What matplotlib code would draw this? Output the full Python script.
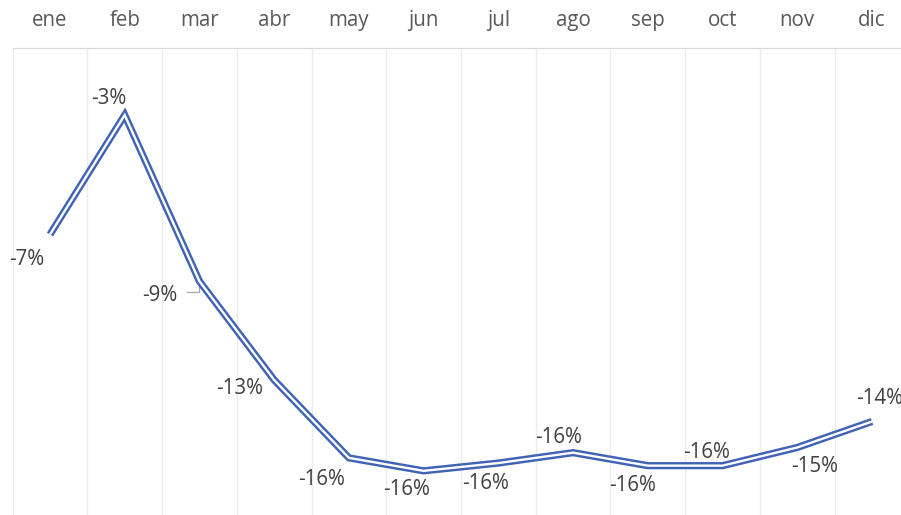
import matplotlib
matplotlib.use("Agg")
from matplotlib import pyplot as plt
import numpy as np

# monthly change, in percent
meses = ["ene", "feb", "mar", "abr", "may", "jun",
         "jul", "ago", "sep", "oct", "nov", "dic"]
variacion = [-7.2, -2.6, -9.0, -12.8, -15.8, -16.3,
             -16.0, -15.6, -16.1, -16.1, -15.4, -14.4]

# where each data label sits, pixels from its point (right, down)
label_offsets = [(-23, 23), (-16, -19), (-40, 12.5), (-35, 7),
                 (-27, 19.5), (-17, 17), (-12.5, 18), (-15, -17),
                 (-15, 17.5), (-16, -15), (17.5, 17), (8, -25)]

plt.rcParams["font.family"] = ["Open Sans", "DejaVu Sans"]

W, H, DPI = 901, 515, 100
fig = plt.figure(figsize=(W / DPI, H / DPI), dpi=DPI)
left, right, top = 12.6, 909.4, 47.5
ax = fig.add_axes([left / W, 0, (right - left) / W, (H - top) / H])

x = np.arange(len(meses))
blue = "#4163B3"

# double line: blue stroke with a white stroke on top
ax.plot(x, variacion, color=blue, lw=5.2, solid_joinstyle="miter",
        solid_capstyle="butt", zorder=3)
ax.plot(x, variacion, color="white", lw=1.7, solid_joinstyle="miter",
        solid_capstyle="butt", zorder=4)

ax.set_xlim(-0.5, len(meses) - 0.5)
ax.set_ylim(-18, 0)

# month names along the top
ax.xaxis.tick_top()
ax.set_xticks(x)
ax.set_xticklabels(meses, fontsize=14.8, color="#595959")
ax.tick_params(axis="x", length=0, pad=12)
ax.set_yticks([])

# light vertical lines between months
ax.set_xticks(np.arange(-0.5, len(meses)), minor=True)
ax.tick_params(axis="x", which="minor", length=0)
ax.grid(True, which="minor", axis="x", color="#ececec", lw=1.0)
ax.grid(False, which="major")

for s in ["left", "right", "bottom"]:
    ax.spines[s].set_visible(False)
ax.spines["top"].set_color("#d9d9d9")
ax.spines["top"].set_linewidth(0.9)

# data labels
for i, v in enumerate(variacion):
    dx, dy = label_offsets[i]
    ax.annotate(f"{round(v):.0f}%", (x[i], v), xytext=(dx, -dy - 7.5),
                textcoords="offset pixels", ha="center", va="baseline",
                fontsize=14.8, color="#404040", zorder=5)

# leader line for the mar label
pt = ax.transData.transform((x[2], variacion[2]))
lx = [pt[0] - 12, pt[0], pt[0]]
ly = [pt[1] - 11, pt[1] - 11, pt[1] - 3.5]
ax.plot(lx, ly, color="#a6a6a6", lw=0.9, transform=None, zorder=2)

fig.savefig("out.png", dpi=DPI)
